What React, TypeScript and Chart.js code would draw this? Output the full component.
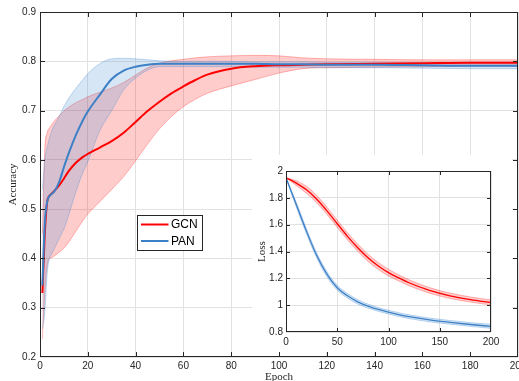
import React, { useEffect, useRef } from "react";
import { Chart, registerables } from "chart.js";

Chart.register(...registerables);

// ---------- Main chart data (accuracy) ----------
const accEpochs = [1, 2, 3, 4, 5, 6, 8, 10, 12, 15, 18, 20, 25, 30, 35, 40, 45, 50, 55, 60, 65, 70, 80, 90, 100, 110, 120, 140, 160, 180, 200];
const gcnAcc = [0.33, 0.45, 0.515, 0.527, 0.532, 0.537, 0.548, 0.562, 0.577, 0.594, 0.606, 0.612, 0.625, 0.638, 0.655, 0.677, 0.699, 0.718, 0.735, 0.749, 0.762, 0.773, 0.785, 0.79, 0.792, 0.793, 0.794, 0.795, 0.796, 0.797, 0.797];
const gcnAccHi = [0.45, 0.62, 0.655, 0.665, 0.672, 0.679, 0.689, 0.699, 0.707, 0.716, 0.723, 0.728, 0.737, 0.746, 0.757, 0.772, 0.787, 0.796, 0.801, 0.804, 0.807, 0.809, 0.811, 0.812, 0.811, 0.807, 0.805, 0.804, 0.803, 0.803, 0.803];
const gcnAccLo = [0.237, 0.33, 0.385, 0.4, 0.402, 0.405, 0.412, 0.421, 0.433, 0.455, 0.477, 0.49, 0.515, 0.54, 0.566, 0.598, 0.632, 0.663, 0.688, 0.708, 0.723, 0.735, 0.75, 0.763, 0.776, 0.785, 0.787, 0.788, 0.789, 0.79, 0.79];
const panAcc = [0.345, 0.47, 0.515, 0.527, 0.531, 0.536, 0.555, 0.585, 0.613, 0.65, 0.681, 0.698, 0.732, 0.764, 0.781, 0.789, 0.793, 0.795, 0.795, 0.795, 0.795, 0.795, 0.795, 0.795, 0.794, 0.794, 0.793, 0.793, 0.792, 0.791, 0.791];
const panAccHi = [0.54, 0.6, 0.625, 0.645, 0.66, 0.67, 0.688, 0.708, 0.725, 0.745, 0.763, 0.775, 0.795, 0.805, 0.806, 0.805, 0.803, 0.801, 0.8, 0.8, 0.8, 0.8, 0.8, 0.799, 0.799, 0.799, 0.798, 0.798, 0.797, 0.796, 0.796];
const panAccLo = [0.257, 0.29, 0.37, 0.4, 0.41, 0.42, 0.44, 0.46, 0.488, 0.535, 0.575, 0.596, 0.659, 0.7, 0.742, 0.766, 0.782, 0.789, 0.789, 0.789, 0.789, 0.789, 0.789, 0.788, 0.788, 0.788, 0.787, 0.787, 0.786, 0.785, 0.785];

const accXTicks = { min: 0, max: 200, step: 20 };
const accYTicks = { min: 0.2, max: 0.9, step: 0.1 };

// ---------- Inset data (loss) ----------
const lossEpochs = [0, 10, 20, 30, 40, 50, 60, 70, 80, 90, 100, 110, 120, 140, 160, 180, 200];
const gcnLoss = [1.95, 1.91, 1.86, 1.79, 1.703, 1.607, 1.513, 1.428, 1.353, 1.292, 1.243, 1.203, 1.167, 1.11, 1.07, 1.042, 1.02];
const gcnLossHi = [1.95, 1.928, 1.886, 1.817, 1.73, 1.634, 1.54, 1.455, 1.38, 1.318, 1.268, 1.226, 1.189, 1.131, 1.09, 1.061, 1.039];
const gcnLossLo = [1.95, 1.892, 1.834, 1.763, 1.676, 1.58, 1.486, 1.401, 1.326, 1.266, 1.218, 1.18, 1.145, 1.089, 1.05, 1.023, 1.001];
const panLoss = [1.95, 1.75, 1.55, 1.37, 1.23, 1.13, 1.07, 1.025, 0.993, 0.968, 0.948, 0.93, 0.914, 0.89, 0.872, 0.856, 0.842];
const panLossHi = [1.95, 1.768, 1.569, 1.389, 1.249, 1.148, 1.087, 1.041, 1.008, 0.982, 0.962, 0.944, 0.928, 0.904, 0.886, 0.87, 0.857];
const panLossLo = [1.95, 1.732, 1.531, 1.351, 1.211, 1.112, 1.053, 1.009, 0.978, 0.954, 0.934, 0.916, 0.9, 0.876, 0.858, 0.842, 0.827];

const lossXTicks = { min: 0, max: 200, step: 50 };
const lossYTicks = { min: 0.8, max: 2, step: 0.2 };

const seriesNames = ["GCN", "PAN"];

// ---------- Styles ----------
const RED = "#ff0000";
const BLUE = "#3d80c6";
const RED_FILL = "rgba(255,0,0,0.2)";
const BLUE_FILL = "rgba(70,140,210,0.22)";
const RED_EDGE = "rgba(255,40,40,0.4)";
const BLUE_EDGE = "rgba(80,145,215,0.45)";
const AXIS = "#262626";
const GRID = "#e2e2e2";
const SANS = "'Liberation Sans', Arial, Helvetica, sans-serif";
const SERIF = "'Liberation Serif', 'DejaVu Serif', serif";

const pts = (xs: number[], ys: number[]) => xs.map((x, i) => ({ x, y: ys[i] }));

function buildDatasets(xs: number[], g: number[], gHi: number[], gLo: number[], p: number[], pHi: number[], pLo: number[], lw: number) {
  const base = { pointRadius: 0, cubicInterpolationMode: "monotone" as const };
  return [
    { ...base, label: "gcnLo", data: pts(xs, gLo), borderColor: RED_EDGE, borderWidth: 0.8, fill: false, order: 6 },
    { ...base, label: "gcnHi", data: pts(xs, gHi), borderColor: RED_EDGE, borderWidth: 0.8, backgroundColor: RED_FILL, fill: "-1", order: 5 },
    { ...base, label: "panLo", data: pts(xs, pLo), borderColor: BLUE_EDGE, borderWidth: 0.8, fill: false, order: 4 },
    { ...base, label: "panHi", data: pts(xs, pHi), borderColor: BLUE_EDGE, borderWidth: 0.8, backgroundColor: BLUE_FILL, fill: "-1", order: 3 },
    { ...base, label: seriesNames[0], data: pts(xs, g), borderColor: RED, borderWidth: lw, fill: false, order: 2, legend: true },
    { ...base, label: seriesNames[1], data: pts(xs, p), borderColor: BLUE, borderWidth: lw, fill: false, order: 1, legend: true },
  ];
}

const framePlugin = {
  id: "frame",
  afterDraw(chart: any, _args: any, opts: any) {
    const { ctx, chartArea: a, scales } = chart;
    const len = opts.tickLen ?? 4;
    ctx.save();
    ctx.fillStyle = AXIS;
    const xs = scales.x, ys = scales.y;
    const L = Math.round(a.left), R = Math.round(a.right) - 1;
    const T = Math.round(a.top), B = Math.round(a.bottom) - 1;
    // box
    ctx.fillRect(L, T, R - L + 1, 1);
    ctx.fillRect(L, B, R - L + 1, 1);
    ctx.fillRect(L, T, 1, B - T + 1);
    ctx.fillRect(R, T, 1, B - T + 1);
    // inward ticks on all four sides
    xs.ticks.forEach((t: any) => {
      const px = Math.min(R, Math.round(xs.getPixelForValue(t.value)));
      ctx.fillRect(px, B - len, 1, len);
      ctx.fillRect(px, T + 1, 1, len);
    });
    ys.ticks.forEach((t: any) => {
      const py = Math.min(B, Math.round(ys.getPixelForValue(t.value)));
      ctx.fillRect(L + 1, py, len, 1);
      ctx.fillRect(R - len, py, len, 1);
    });

    // axis titles
    ctx.fillStyle = AXIS;
    ctx.font = `${opts.titleSize ?? 11}px ${SERIF}`;
    ctx.textAlign = "center";
    ctx.textBaseline = "middle";
    if (opts.xTitle) ctx.fillText(opts.xTitle, (a.left + a.right) / 2, a.bottom + opts.xTitleOffset);
    if (opts.yTitle) {
      ctx.save();
      ctx.translate(a.left - opts.yTitleOffset, (a.top + a.bottom) / 2);
      ctx.rotate(-Math.PI / 2);
      ctx.fillText(opts.yTitle, 0, 0);
      ctx.restore();
    }

    // legend
    if (opts.legend) {
      const lg = opts.legend;
      const x0 = Math.round(a.left + lg.dx), y0 = Math.round(a.top + lg.dy);
      ctx.fillStyle = "#ffffff";
      ctx.fillRect(x0, y0, lg.w, lg.h);
      ctx.fillStyle = AXIS;
      ctx.fillRect(x0, y0, lg.w, 1);
      ctx.fillRect(x0, y0 + lg.h - 1, lg.w, 1);
      ctx.fillRect(x0, y0, 1, lg.h);
      ctx.fillRect(x0 + lg.w - 1, y0, 1, lg.h);
      const items = chart.data.datasets.filter((d: any) => d.legend);
      ctx.font = `12px ${SANS}`;
      ctx.textAlign = "left";
      ctx.textBaseline = "middle";
      items.forEach((d: any, i: number) => {
        const cy = y0 + 9.5 + i * 16.5;
        ctx.strokeStyle = d.borderColor;
        ctx.lineWidth = 2;
        ctx.beginPath();
        ctx.moveTo(x0 + 4, cy);
        ctx.lineTo(x0 + 31.5, cy);
        ctx.stroke();
        ctx.fillStyle = "#000000";
        ctx.fillText(d.label, x0 + 34, cy + 0.5);
      });
    }
    ctx.restore();
  },
};

function axisOpts(t: { min: number; max: number; step: number }, fmt: (v: number) => string, padding: number, fit: (s: any) => void) {
  return {
    type: "linear" as const,
    min: t.min,
    max: t.max,
    ticks: {
      stepSize: t.step,
      autoSkip: false,
      maxRotation: 0,
      padding,
      color: AXIS,
      font: { family: SANS, size: 10 },
      callback: (v: any) => fmt(Number(v)),
    },
    grid: { color: GRID, lineWidth: 1, drawTicks: false },
    border: { display: false },
    afterFit: fit,
  };
}

const fmt1 = (v: number) => v.toFixed(1);
const fmtInt = (v: number) => String(Math.round(v));
const fmtTrim = (v: number) => String(Number(v.toFixed(1)));

export default function App() {
  const mainRef = useRef<HTMLCanvasElement>(null);
  const insetRef = useRef<HTMLCanvasElement>(null);

  useEffect(() => {
    const main = new Chart(mainRef.current as HTMLCanvasElement, {
      type: "line",
      data: { datasets: buildDatasets(accEpochs, gcnAcc, gcnAccHi, gcnAccLo, panAcc, panAccHi, panAccLo, 2) as any },
      options: {
        responsive: false,
        animation: false,
        devicePixelRatio: 1,
        layout: { padding: { top: 12, right: 1, left: 0, bottom: 0 } },
        scales: {
          x: axisOpts(accXTicks, fmtInt, 3, (s: any) => { s.height = 24; s.paddingLeft = 0; s.paddingRight = 0; }),
          y: axisOpts(accYTicks, fmt1, 4, (s: any) => { s.width = 40; s.paddingTop = 0; s.paddingBottom = 0; }),
        },
        plugins: {
          legend: { display: false },
          tooltip: { enabled: false },
          frame: {
            tickLen: 4,
            xTitle: "Epoch",
            xTitleOffset: 20,
            yTitle: "Accuracy",
            yTitleOffset: 27,
            legend: { dx: 96.5, dy: 203, w: 66, h: 36 },
          },
        } as any,
      },
      plugins: [framePlugin],
    });

    const inset = new Chart(insetRef.current as HTMLCanvasElement, {
      type: "line",
      data: { datasets: buildDatasets(lossEpochs, gcnLoss, gcnLossHi, gcnLossLo, panLoss, panLossHi, panLossLo, 1.3) as any },
      options: {
        responsive: false,
        animation: false,
        devicePixelRatio: 1,
        layout: { padding: { top: 16, right: 21, left: 0, bottom: 0 } },
        scales: {
          x: axisOpts(lossXTicks, fmtInt, 4, (s: any) => { s.height = 20; s.paddingLeft = 0; s.paddingRight = 0; }),
          y: axisOpts(lossYTicks, fmtTrim, 3, (s: any) => { s.width = 34; s.paddingTop = 0; s.paddingBottom = 0; }),
        },
        plugins: {
          legend: { display: false },
          tooltip: { enabled: false },
          frame: {
            tickLen: 3,
            yTitle: "Loss",
            yTitleOffset: 24,
          },
        } as any,
      },
      plugins: [framePlugin],
    });

    return () => {
      main.destroy();
      inset.destroy();
    };
  }, []);

  return (
    <div style={{ position: "fixed", left: 0, top: 0, width: 519, height: 381, background: "#ffffff", overflow: "hidden" }}>
      <canvas ref={mainRef} width={519} height={381} style={{ position: "absolute", left: 0, top: 0, width: 519, height: 381 }} />
      <canvas ref={insetRef} width={260} height={197} style={{ position: "absolute", left: 252, top: 155, width: 260, height: 197, background: "#ffffff" }} />
    </div>
  );
}
